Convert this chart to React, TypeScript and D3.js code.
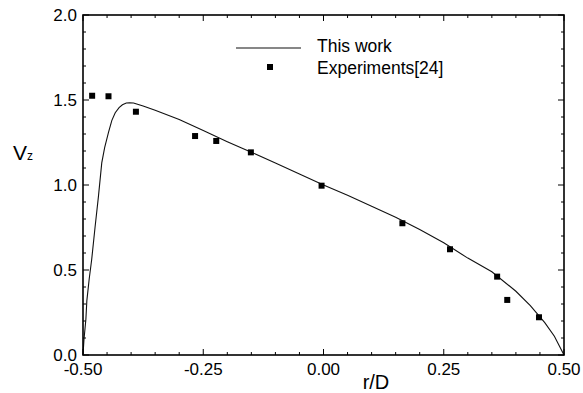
import React from "react";
import * as d3 from "d3";

const curveR = [-0.5, -0.498, -0.494, -0.492, -0.487, -0.482, -0.475, -0.468, -0.461, -0.455, -0.447, -0.44, -0.433, -0.425, -0.418, -0.41, -0.403, -0.395, -0.385, -0.375, -0.35, -0.3, -0.25, -0.2, -0.15, -0.1, -0.05, 0, 0.05, 0.1, 0.15, 0.2, 0.25, 0.3, 0.35, 0.4, 0.43, 0.46, 0.48, 0.5];
const curveV = [0, 0.09, 0.21, 0.32, 0.45, 0.56, 0.75, 0.93, 1.13, 1.22, 1.31, 1.38, 1.425, 1.455, 1.472, 1.482, 1.484, 1.482, 1.474, 1.465, 1.44, 1.385, 1.32, 1.255, 1.193, 1.13, 1.065, 1.0, 0.94, 0.875, 0.81, 0.738, 0.66, 0.57, 0.49, 0.375, 0.29, 0.19, 0.11, 0];

const expR = [-0.481, -0.447, -0.39, -0.267, -0.223, -0.151, -0.004, 0.164, 0.263, 0.361, 0.382, 0.448];
const expV = [1.525, 1.522, 1.431, 1.288, 1.259, 1.192, 0.996, 0.775, 0.622, 0.461, 0.324, 0.222];

const xTickLabels = ["-0.50", "-0.25", "0.00", "0.25", "0.50"];
const xTickValues = [-0.5, -0.25, 0, 0.25, 0.5];
const yTickLabels = ["0.0", "0.5", "1.0", "1.5", "2.0"];
const yTickValues = [0, 0.5, 1.0, 1.5, 2.0];

const legendLabels = ["This work", "Experiments[24]"];

export default function App() {
  const W = 583, H = 393;
  const L = 83, R = 564, T = 15, B = 355;
  const x = d3.scaleLinear().domain([-0.5, 0.5]).range([L, R]);
  const y = d3.scaleLinear().domain([0, 2]).range([B, T]);
  const font = "'Liberation Sans', Arial, Helvetica, sans-serif";

  const line = d3.line<number>().x((_, i) => x(curveR[i])).y((d) => y(d));
  const path = line(curveV) || "";

  const xMinor = d3.range(0, 21).map((i) => -0.5 + i * 0.05);
  const yMinor = d3.range(0, 21).map((i) => i * 0.1);
  const isMajorX = (v: number) => Math.abs(v / 0.25 - Math.round(v / 0.25)) < 1e-6;
  const isMajorY = (v: number) => Math.abs(v / 0.5 - Math.round(v / 0.5)) < 1e-6;

  const ms = 6;

  return (
    <svg width={W} height={H} style={{ position: "absolute", left: 0, top: 0, background: "#fff" }} fontFamily={font}>
      <rect x={0} y={0} width={W} height={H} fill="#fff" />
      {xMinor.map((v, i) => {
        const len = isMajorX(v) ? 6 : 3;
        return (
          <g key={"xt" + i} stroke="#000" strokeWidth={1}>
            <line x1={x(v)} x2={x(v)} y1={B} y2={B - len} />
            <line x1={x(v)} x2={x(v)} y1={T} y2={T + len} />
          </g>
        );
      })}
      {yMinor.map((v, i) => {
        const len = isMajorY(v) ? 6 : 3;
        return (
          <g key={"yt" + i} stroke="#000" strokeWidth={1}>
            <line x1={L} x2={L + len} y1={y(v)} y2={y(v)} />
            <line x1={R} x2={R - len} y1={y(v)} y2={y(v)} />
          </g>
        );
      })}
      <path d={path} fill="none" stroke="#111" strokeWidth={1.1} />
      {expR.map((r, i) => (
        <rect key={"e" + i} x={x(r) - ms / 2} y={y(expV[i]) - ms / 2} width={ms} height={ms} fill="#000" />
      ))}
      <rect x={L} y={T} width={R - L} height={B - T} fill="none" stroke="#000" strokeWidth={1.6} />
      {xTickValues.map((v, i) => (
        <text key={"xl" + i} x={x(v)} y={375} textAnchor="middle" fontSize={17} fill="#000">
          {xTickLabels[i]}
        </text>
      ))}
      {yTickValues.map((v, i) => (
        <text key={"yl" + i} x={77} y={y(v) + 6} textAnchor="end" fontSize={17} fill="#000">
          {yTickLabels[i]}
        </text>
      ))}
      <text x={376} y={389} textAnchor="middle" fontSize={20} fill="#000">r/D</text>
      <text x={13} y={160} fontSize={21} fill="#000">V</text>
      <text x={27} y={160} fontSize={12} fill="#000">z</text>
      <line x1={236} x2={301} y1={48} y2={48} stroke="#111" strokeWidth={1.1} />
      <text x={317} y={52} fontSize={17.5} fill="#000">{legendLabels[0]}</text>
      <rect x={270 - ms / 2} y={67 - ms / 2} width={ms} height={ms} fill="#000" />
      <text x={317} y={74} fontSize={17.5} fill="#000">{legendLabels[1]}</text>
    </svg>
  );
}
